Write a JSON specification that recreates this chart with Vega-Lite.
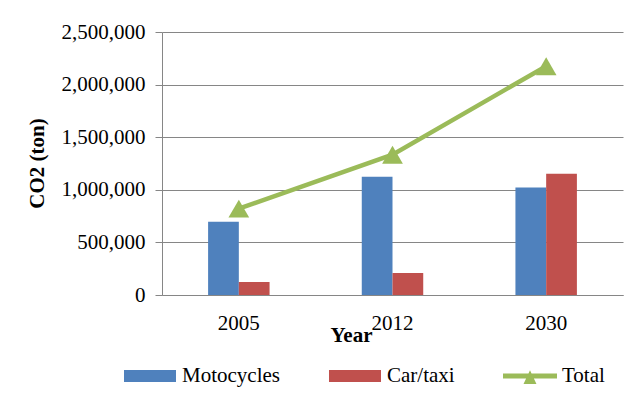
{
  "$schema": "https://vega.github.io/schema/vega-lite/v6.json",
  "width": 461,
  "height": 263,
  "autosize": "none",
  "padding": {"left": 162, "top": 32, "right": 7, "bottom": 108},
  "background": "white",
  "config": {"view": {"stroke": null}, "font": "'Liberation Serif', 'Times New Roman', serif"},
  "data": {
    "values": [
      {"Year": "2005", "Series": "Motocycles", "CO2": 697000},
      {"Year": "2005", "Series": "Car/taxi", "CO2": 124000},
      {"Year": "2012", "Series": "Motocycles", "CO2": 1125000},
      {"Year": "2012", "Series": "Car/taxi", "CO2": 209000},
      {"Year": "2030", "Series": "Motocycles", "CO2": 1022000},
      {"Year": "2030", "Series": "Car/taxi", "CO2": 1153000},
      {"Year": "2005", "Series": "Total", "CO2": 821000},
      {"Year": "2012", "Series": "Total", "CO2": 1334000},
      {"Year": "2030", "Series": "Total", "CO2": 2175000}
    ]
  },
  "encoding": {
    "x": {
      "field": "Year",
      "type": "nominal",
      "scale": {"paddingInner": 0.6, "paddingOuter": 0.3},
      "axis": {
        "title": "Year",
        "labelAngle": 0,
        "ticks": false,
        "labelPadding": 17,
        "labelFont": "'Liberation Serif', 'Times New Roman', serif",
        "labelFontSize": 21,
        "labelColor": "black",
        "domainColor": "#868686",
        "grid": false,
        "titleFont": "'Liberation Serif', 'Times New Roman', serif",
        "titleFontSize": 21,
        "titleFontWeight": "bold",
        "titleColor": "black",
        "titleX": 189,
        "titleY": 46,
        "titleAlign": "center",
        "titleBaseline": "alphabetic"
      }
    },
    "y": {
      "field": "CO2",
      "type": "quantitative",
      "scale": {"domain": [0, 2500000]},
      "axis": {
        "title": "CO2 (ton)",
        "values": [0, 500000, 1000000, 1500000, 2000000, 2500000],
        "format": ",d",
        "tickSize": 7,
        "tickColor": "#868686",
        "domainColor": "#868686",
        "gridColor": "#868686",
        "gridOpacity": 1,
        "labelPadding": 10,
        "labelFont": "'Liberation Serif', 'Times New Roman', serif",
        "labelFontSize": 21,
        "labelColor": "black",
        "titleFont": "'Liberation Serif', 'Times New Roman', serif",
        "titleFontSize": 21,
        "titleFontWeight": "bold",
        "titleColor": "black",
        "titleX": -125,
        "titleY": 131,
        "titleAngle": -90,
        "titleAlign": "center",
        "titleBaseline": "middle"
      }
    },
    "color": {
      "field": "Series",
      "type": "nominal",
      "scale": {
        "domain": ["Motocycles", "Car/taxi", "Total"],
        "range": ["#4F81BD", "#C0504D", "#9BBB59"]
      },
      "legend": {
        "orient": "none",
        "legendX": -39,
        "legendY": 334,
        "direction": "horizontal",
        "title": null,
        "padding": 0,
        "labelFont": "'Liberation Serif', 'Times New Roman', serif",
        "labelFontSize": 21,
        "labelColor": "black",
        "labelOffset": 5,
        "columnPadding": 48,
        "symbolSize": 2916,
        "symbolType": "M-0.963,-0.222H0.963V0.222H-0.963Z",
        "symbolStrokeWidth": 0,
        "clipHeight": 20,
        "encode": {
          "symbols": {
            "update": {
              "shape": {"signal": "datum.value === 'Total' ? 'M-1,-0.093H1V0.093H-1Z M-0.24,0.3L0,-0.21L0.24,0.3Z' : 'M-0.963,-0.222H0.963V0.222H-0.963Z'"},
              "fill": {"signal": "datum.value === 'Motocycles' ? '#4F81BD' : (datum.value === 'Car/taxi' ? '#C0504D' : '#9BBB59')"},
              "stroke": {"value": "transparent"},
              "strokeWidth": {"value": 0},
              "opacity": {"value": 1}
            }
          }
        }
      }
    }
  },
  "layer": [
    {
      "transform": [{"filter": "datum.Series !== 'Total'"}],
      "mark": {"type": "bar"},
      "encoding": {
        "xOffset": {
          "field": "Series",
          "type": "nominal",
          "sort": ["Motocycles", "Car/taxi"],
          "scale": {"paddingInner": 0, "paddingOuter": 0}
        }
      }
    },
    {
      "transform": [{"filter": "datum.Series === 'Total'"}],
      "mark": {"type": "line", "strokeWidth": 4.5},
      "encoding": {}
    },
    {
      "transform": [{"filter": "datum.Series === 'Total'"}],
      "mark": {"type": "point", "shape": "triangle-up", "filled": true, "size": 430, "opacity": 1},
      "encoding": {}
    }
  ]
}
